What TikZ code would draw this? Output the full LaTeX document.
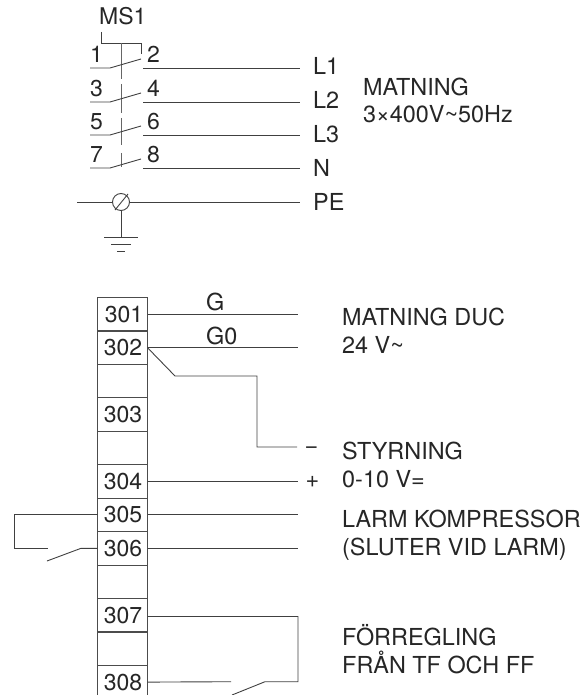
\documentclass[tikz,border=0pt]{standalone}
\usepackage{fontspec}
\setmainfont{TeX Gyre Heros}
\begin{document}
\begin{tikzpicture}[x=1pt,y=-1pt,
  lbl/.style={anchor=base west,inner sep=0pt,text=black!85,font=\fontsize{23.4}{25}\selectfont},
  wire/.style={draw=black!75,line width=0.9pt,line join=miter},
  cell/.style={draw=black!70,line width=0.9pt,minimum width=50pt,minimum height=33.45pt,inner sep=0pt,outer sep=0pt,text=black!85,font=\fontsize{23}{25}\selectfont}]
\clip (0,0) rectangle (584,695);
\useasboundingbox (0,0) rectangle (584,695);
% MS1
\node[lbl,font=\fontsize{23}{25}\selectfont] (ms) at (99,25) {MS1};
\draw[wire] (101,32) -- (101,43) -- (141,43) -- (141,54);
\draw[wire,black!60] (121,43) -- (121,79) (121,84) -- (121,113) (121,118) -- (121,145) (121,153) -- (121,167);
\foreach \n/\a/\b/\y/\e/\yl in {1/1/2/68/L1/75,2/3/4/102/L2/109,3/5/6/135/L3/142.5,4/7/8/168/N/176}{
  \node[lbl,font=\fontsize{23}{25}\selectfont] (pa\n) at (90,\y-5) {\a};
  \node[lbl,font=\fontsize{23}{25}\selectfont] (pb\n) at (147,\y-5) {\b};
  \node[lbl] (l\n) at (313,\yl) {\e};
  \coordinate (ws\n) at (90,\y);
  \coordinate (wa\n) at (110,\y);
  \coordinate (wb\n) at (141,\y-9);
  \coordinate (wc\n) at (143,\y);
  \coordinate (wd\n) at (300,\y);
  \draw[wire] (ws\n) -- (wa\n) -- (wb\n);
  \draw[wire] (wc\n) -- (wd\n);
}
\node[lbl] (mat) at (363,96) {MATNING};
\node[lbl] (spec) at (363,122.5) {3×400V\textasciitilde 50Hz};
% PE
\node[circle,draw=black!75,line width=0.9pt,minimum size=17pt,inner sep=0pt] (pe) at (121,202) {};
\coordinate (pl) at (77,202);
\coordinate (pr) at (300,202);
\draw[wire] (pl) -- (pe.west);
\draw[wire] (pe.east) -- (pr);
\draw[wire] (115,210) -- (128,194);
\coordinate (gnd) at (121,237);
\draw[wire] (pe.south) -- (gnd);
\draw[wire] (104,237) -- (138,237) (111,244) -- (131,244) (117,251) -- (125,251);
\node[lbl] (petxt) at (313,210.5) {PE};
% terminal strip
\foreach \t/\c/\s/\y in {301/301/3/314.2,302/302/1/347.7,b1//0/381.1,303/303/1/414.6,b2//0/448,304/304/1/481.4,305/305/1/514.9,306/306/1/548.3,b3//0/581.8,307/307/1/615.2,b4//0/648.7,308/308/1/682.1}{
  \node[cell] (t\t) at (122.5,\y) {\hspace*{\s pt}\c};
}
% upper wires
\node[lbl] (g) at (206,310) {G};
\node[lbl] (g0) at (206,344) {G0};
\coordinate (e301) at (298,314.2);
\coordinate (e302) at (298,347.7);
\draw[wire] (t301.east) -- (e301);
\draw[wire] (t302.east) -- (e302);
\coordinate (d1) at (175,376);
\coordinate (d2) at (257,376);
\coordinate (d3) at (257,447);
\coordinate (d4) at (297,447);
\draw[wire] (t302.east) -- (d1) -- (d2) -- (d3) -- (d4);
\node[lbl] (minus) at (304.5,453) {−};
\coordinate (e304) at (298,481.4);
\draw[wire] (t304.east) -- (e304);
\node[lbl] (plus) at (305.5,487.5) {+};
\coordinate (e305) at (298,514.9);
\coordinate (e306) at (298,548.3);
\draw[wire] (t305.east) -- (e305);
\draw[wire] (t306.east) -- (e306);
% alarm contact
\coordinate (a1) at (14,514.9);
\coordinate (a2) at (14,548.3);
\coordinate (a3) at (48,548.3);
\coordinate (a4) at (47,561);
\coordinate (a5) at (81,548.3);
\draw[wire] (t305.west) -- (a1) -- (a2) -- (a3);
\draw[wire] (a4) -- (a5) -- (t306.west);
% interlock
\coordinate (i1) at (298,616.5);
\coordinate (i2) at (298,681.7);
\coordinate (i3) at (265,681.7);
\coordinate (i4) at (232,695);
\coordinate (i5) at (231,681.7);
\draw[wire] (147.5,616.5) -- (i1) -- (i2) -- (i3) -- (i4);
\draw[wire] (t308.east) -- (i5);
% labels
\node[lbl] (l1) at (342,325) {MATNING DUC};
\node[lbl] (l2) at (342,353.5) {24 V\textasciitilde};
\node[lbl] (l3) at (342,459) {STYRNING};
\node[lbl] (l4) at (342,487.5) {0-10 V=};
\node[lbl] (l5) at (342,527) {LARM KOMPRESSOR};
\node[lbl] (l6) at (342,555.5) {(SLUTER VID LARM)};
\node[lbl] (l7) at (342,645) {FÖRREGLING};
\node[lbl] (l8) at (342,673) {FRÅN TF OCH FF};
\end{tikzpicture}
\end{document}
